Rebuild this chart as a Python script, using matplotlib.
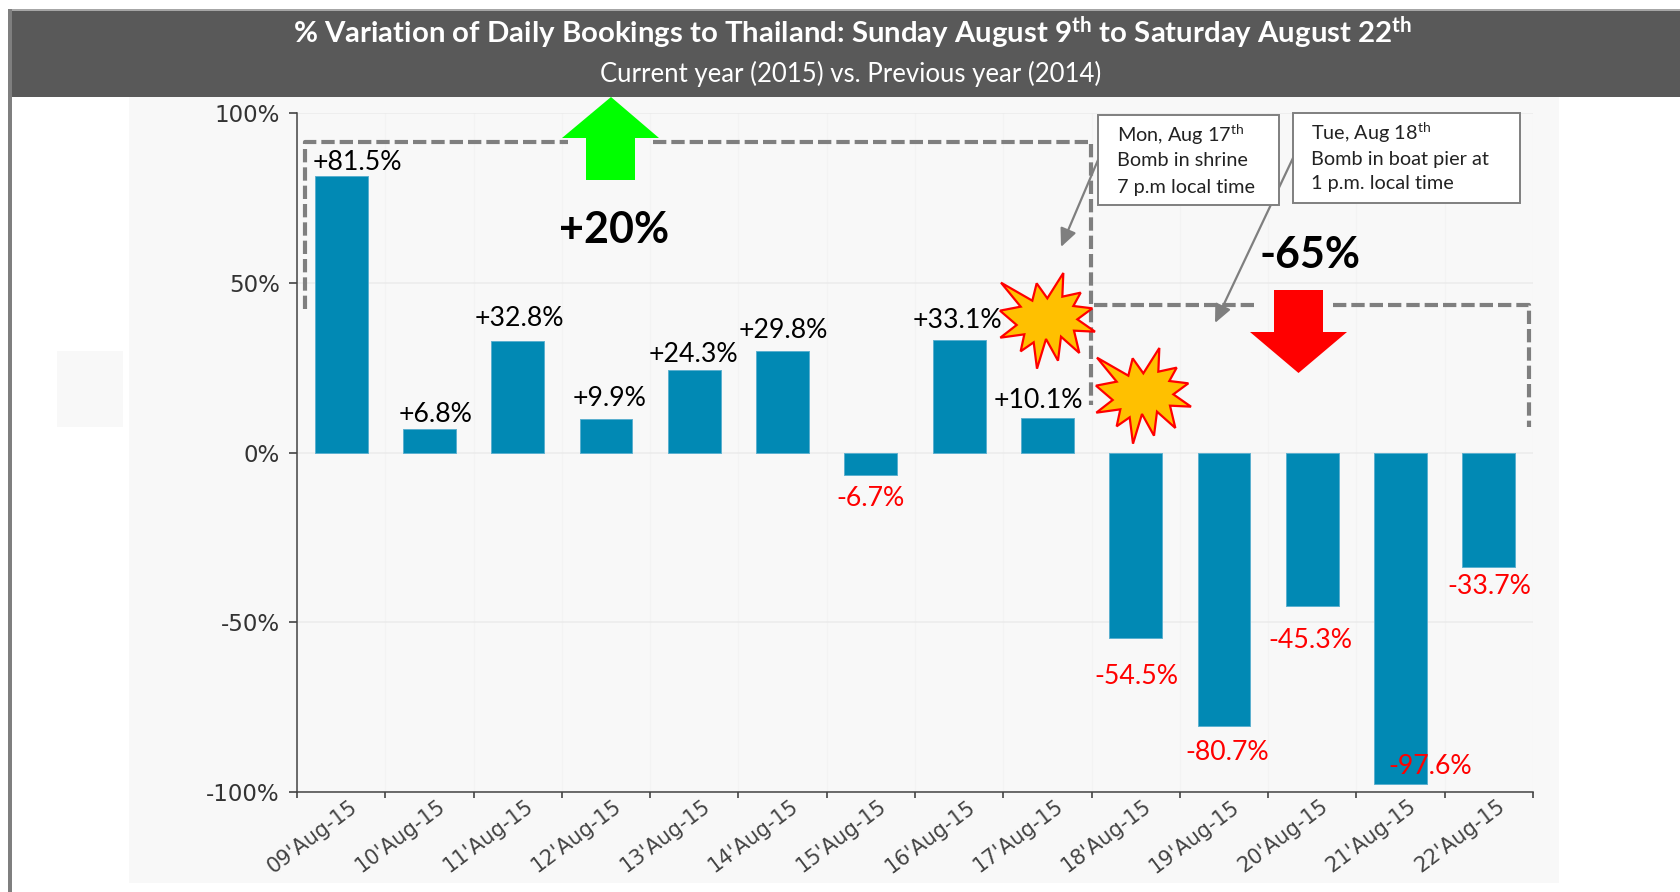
import matplotlib
matplotlib.use("Agg")
import matplotlib.pyplot as plt
from matplotlib.patches import Polygon, Rectangle

plt.rcParams["font.family"] = "Lato"
plt.rcParams["mathtext.default"] = "regular"

dates = ["09'Aug-15", "10'Aug-15", "11'Aug-15", "12'Aug-15", "13'Aug-15", "14'Aug-15", "15'Aug-15",
    "16'Aug-15", "17'Aug-15", "18'Aug-15", "19'Aug-15", "20'Aug-15", "21'Aug-15", "22'Aug-15"]
variation = [81.5, 6.8, 32.8, 9.9, 24.3, 29.8, -6.7, 33.1, 10.1, -54.5, -80.7, -45.3, -97.6, -33.7]
y_ticks = [-100, -50, 0, 50, 100]
y_tick_labels = ["-100%", "-50%", "0%", "50%", "100%"]

title = "% Variation of Daily Bookings to Thailand: Sunday August 9$^{th}$ to Saturday August 22$^{th}$"
subtitle = "Current year (2015) vs. Previous year (2014)"

W, H = 1680, 892
GREY = "#7f7f7f"

fig = plt.figure(figsize=(W / 100, H / 100), dpi=100, facecolor="white")

# background layer, in pixels
bg = fig.add_axes([0, 0, 1, 1], zorder=0)
bg.set_xlim(0, W)
bg.set_ylim(H, 0)
bg.axis("off")
bg.add_patch(Rectangle((129, 97), 1430, 786, color="#f8f8f8", lw=0))
bg.add_patch(Rectangle((57, 351), 66, 76, color="#f8f8f8", lw=0))
bg.add_patch(Rectangle((8, 9), W - 8, 88, color="#595959", lw=0))
bg.add_patch(Rectangle((8, 9), W - 8, 2, color="#a6a6a6", lw=0))
bg.add_patch(Rectangle((8, 9), 4, H - 9, color=GREY, lw=0))

# chart
ax = fig.add_axes([297 / W, (H - 792) / H, (1533 - 297) / W, (792 - 113) / H], zorder=1)
ax.set_facecolor("#f8f8f8")
x = list(range(len(dates)))
ax.bar(x, variation, width=0.6, color="#0189b4", edgecolor="#5cb0cf", linewidth=0.7, zorder=3)
ax.set_xlim(-0.5, len(dates) - 0.5)
ax.set_ylim(-100, 100)
ax.set_yticks(y_ticks)
ax.set_yticklabels(y_tick_labels, fontsize=16.5, family="DejaVu Sans", color="#333333")
ax.set_xticks([i - 0.5 for i in range(len(dates) + 1)])
ax.set_xticklabels([])
# date labels hang a little to the right of the bar centre
ax.set_xticks([i + 0.085 for i in x], minor=True)
ax.set_xticklabels(dates, minor=True, rotation=37, ha="right", va="top", rotation_mode="anchor",
    fontsize=15, family="DejaVu Sans", color="#444444")
ax.tick_params(axis="x", which="minor", length=0, pad=3)
ax.tick_params(axis="x", which="major", length=4.5, width=1.1, color="#333333")
ax.tick_params(axis="y", length=5.5, width=1.1, color="#333333", pad=7)
ax.grid(axis="y", color="#ebebeb", linewidth=1.1, zorder=0)
ax.grid(axis="x", which="major", color="#f3f3f3", linewidth=0.8, zorder=0)
ax.spines[["top", "right"]].set_visible(False)
ax.spines[["left", "bottom"]].set_color("#444444")
ax.spines[["left", "bottom"]].set_linewidth(1.1)

# annotation layer, in pixels
top = fig.add_axes([0, 0, 1, 1], zorder=2)
top.set_xlim(0, W)
top.set_ylim(H, 0)
top.axis("off")
top.patch.set_visible(False)

top.text(853, 33, title, color="white", fontsize=21.2, fontweight="bold", ha="center", va="center")
top.text(851, 74, subtitle, color="white", fontsize=18.5, ha="center", va="center")

label_x = [357, 436, 519, 610, 693, 783, 871, 957, 1038, 1136, 1227, 1310, 1430, 1489]
label_y = [162, 414, 319, 399, 354, 331, 498, 320, 400, 677, 753, 641, 767, 587]
for v, lx, ly in zip(variation, label_x, label_y):
    top.text(lx, ly, f"{v:+.1f}%", color="black" if v > 0 else "red", fontsize=19.2,
        ha="center", va="center", zorder=6)

dash = dict(color=GREY, linewidth=3, linestyle=(0, (3.2, 1.2)), zorder=4)
top.plot([305, 305, 568], [309, 142, 142], **dash)
top.plot([653, 1091, 1091], [142, 142, 405], **dash)
top.plot([1094, 1258], [305, 305], **dash)
top.plot([1333, 1529, 1529], [305, 305, 427], **dash)

top.add_patch(Polygon([(611, 97), (659, 138), (635, 138), (635, 180), (586, 180), (586, 138), (562, 138)],
    color="#00ff00", lw=0, zorder=5))
top.add_patch(Polygon([(1274, 290), (1323, 290), (1323, 332), (1347, 332), (1298.5, 373), (1250, 332), (1274, 332)],
    color="#ff0000", lw=0, zorder=5))
top.text(614, 230, "+20%", color="black", fontsize=31, fontweight="bold", ha="center", va="center", zorder=6)
top.text(1310, 255, "-65%", color="black", fontsize=31, fontweight="bold", ha="center", va="center", zorder=6)

# bursts, traced as a single outline and used twice
burst = [(33, 53), (127, 107), (140, 55), (172, 100), (220, 24), (217, 95), (272, 83), (250, 123),
    (307, 130), (262, 163), (315, 200), (252, 197), (268, 264), (213, 215), (204, 287), (168, 222),
    (141, 311), (131, 232), (92, 259), (103, 208), (31, 218), (80, 180), (30, 137), (92, 125)]
for dx, dy in [(0, 0), (96, 75)]:
    pts = [(990 + dx + px / 3, 265 + dy + py / 3) for px, py in burst]
    top.add_patch(Polygon(pts, facecolor="#ffc000", edgecolor="#ff0000", linewidth=1.6, zorder=7))

arrow = dict(arrowstyle="-|>,head_length=1.1,head_width=0.5", color=GREY, lw=1.6, shrinkA=0, shrinkB=0)
top.annotate("", xy=(1215, 323), xytext=(1293, 158), arrowprops=arrow, zorder=8)
top.annotate("", xy=(1061, 247), xytext=(1098, 160), arrowprops=arrow, zorder=8)

top.add_patch(Rectangle((1098, 115), 181, 90, facecolor="white", edgecolor=GREY, linewidth=1.4, zorder=9))
top.add_patch(Rectangle((1293, 113), 227, 90, facecolor="white", edgecolor=GREY, linewidth=1.4, zorder=9))
for ly, s in zip([135, 161, 187], ["Mon, Aug 17$^{th}$", "Bomb in shrine", "7 p.m local time"]):
    top.text(1117, ly, s, color="#222222", fontsize=14.3, ha="left", va="center", zorder=10)
for ly, s in zip([133, 159, 184], ["Tue, Aug 18$^{th}$", "Bomb in boat pier at", "1 p.m. local time"]):
    top.text(1311, ly, s, color="#222222", fontsize=14.3, ha="left", va="center", zorder=10)

fig.savefig("out.png", dpi=100)
